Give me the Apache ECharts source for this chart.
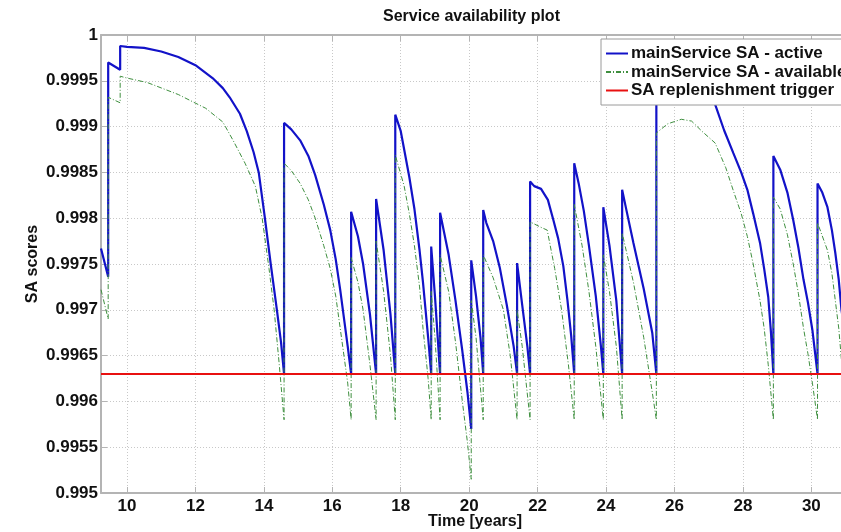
<!DOCTYPE html>
<html>
<head>
<meta charset="utf-8">
<script src="https://cdn.jsdelivr.net/npm/echarts@6/dist/echarts.min.js"></script>
<style>
    html, body { margin: 0; padding: 0; background: #fff; }
    #chart { width: 841px; height: 532px; }
</style>
</head>
<body>
<div id="chart"></div>
<script>
// time range shown on the x axis [years]
const timeRange = [9.24, 31.1];
const timeTicks = [10, 12, 14, 16, 18, 20, 22, 24, 26, 28, 30];
const triggerLevel = 0.9963;

// [time, SA]; repeated times are the replenishment jumps
const activeSA = [
    [9.24, 0.99767], [9.45, 0.99736], [9.45, 0.99970], [9.80, 0.99962], [9.80, 0.99988],
    [10.0, 0.99987], [10.5, 0.99986], [11.0, 0.99982], [11.5, 0.99976], [12.0, 0.99967],
    [12.5, 0.99953], [12.8, 0.99942], [13.0, 0.99932], [13.3, 0.99914], [13.5, 0.99895], [13.7, 0.99872],
    [13.85, 0.99850], [14.03, 0.99800], [14.2, 0.99750], [14.38, 0.99700], [14.5, 0.99665], [14.59, 0.99630],
    [14.59, 0.99904], [14.8, 0.99897], [15.06, 0.99885], [15.3, 0.99868], [15.5, 0.99847], [15.75, 0.99815],
    [15.94, 0.99787], [16.1, 0.99755], [16.23, 0.99722], [16.45, 0.99660], [16.55, 0.99630],
    [16.55, 0.99807], [16.75, 0.99780], [16.9, 0.99750], [17.1, 0.99695], [17.28, 0.99630],
    [17.28, 0.99821], [17.5, 0.99765], [17.7, 0.99695], [17.84, 0.99630],
    [17.84, 0.99913], [18.0, 0.99895], [18.1, 0.99875], [18.25, 0.99845], [18.4, 0.99810], [18.55, 0.99765],
    [18.65, 0.99730], [18.8, 0.99670], [18.89, 0.99630],
    [18.89, 0.99769], [19.0, 0.99715], [19.15, 0.99630],
    [19.15, 0.99806], [19.4, 0.99760], [19.6, 0.99710], [19.8, 0.99655], [19.95, 0.99610], [20.06, 0.99570],
    [20.06, 0.99754], [20.2, 0.99715], [20.33, 0.99670], [20.41, 0.99630],
    [20.41, 0.99809], [20.5, 0.99795], [20.7, 0.99775], [20.9, 0.99745], [21.1, 0.99705], [21.3, 0.99660], [21.4, 0.99630],
    [21.4, 0.99751], [21.55, 0.99705], [21.7, 0.99660], [21.78, 0.99630],
    [21.78, 0.99840], [21.9, 0.99835], [22.1, 0.99832], [22.3, 0.99820], [22.46, 0.99798], [22.6, 0.99778],
    [22.75, 0.99748], [22.87, 0.99711], [22.98, 0.99672], [23.07, 0.99630],
    [23.07, 0.99860], [23.2, 0.99838], [23.35, 0.99808], [23.5, 0.99770], [23.7, 0.99715], [23.85, 0.99660], [23.92, 0.99630],
    [23.92, 0.99812], [24.1, 0.99770], [24.3, 0.99710], [24.47, 0.99630],
    [24.47, 0.99831], [24.6, 0.99808], [24.8, 0.99773], [25.1, 0.99723], [25.35, 0.99675], [25.47, 0.99630],
    [25.47, 0.99935], [25.9, 0.99950], [26.4, 0.99955], [26.8, 0.99950], [27.0, 0.99940], [27.19, 0.99924],
    [27.45, 0.99896], [27.72, 0.99871], [27.95, 0.99850], [28.13, 0.99831], [28.3, 0.99805], [28.5, 0.99773],
    [28.62, 0.99745], [28.74, 0.99714], [28.82, 0.99675], [28.89, 0.99630],
    [28.89, 0.99868], [29.09, 0.99853], [29.3, 0.99828], [29.47, 0.99798], [29.62, 0.99768], [29.77, 0.99733],
    [29.9, 0.99708], [30.03, 0.99678], [30.18, 0.99630],
    [30.18, 0.99838], [30.32, 0.99828], [30.47, 0.99812], [30.6, 0.99787], [30.7, 0.99762], [30.8, 0.99733],
    [30.88, 0.99700], [31.0, 0.99670]
];

const availableSA = [
    [9.24, 0.99722], [9.45, 0.99690], [9.45, 0.99932], [9.80, 0.99926], [9.80, 0.99955],
    [10.0, 0.99953], [10.6, 0.99948], [11.5, 0.99935], [12.3, 0.99920], [12.8, 0.99905],
    [13.1, 0.99885], [13.45, 0.99860], [13.75, 0.99835], [13.95, 0.99800], [14.15, 0.99745],
    [14.3, 0.99700], [14.45, 0.99640], [14.59, 0.99580],
    [14.59, 0.99860], [14.8, 0.99852], [15.06, 0.99838], [15.3, 0.99820], [15.5, 0.99800], [15.75, 0.99770],
    [15.94, 0.99745], [16.1, 0.99715], [16.23, 0.99680], [16.45, 0.99620], [16.55, 0.99580],
    [16.55, 0.99757], [16.75, 0.99730], [16.9, 0.99700], [17.1, 0.99640], [17.28, 0.99580],
    [17.28, 0.99775], [17.5, 0.99720], [17.7, 0.99650], [17.84, 0.99580],
    [17.84, 0.99869], [18.1, 0.99835], [18.25, 0.99805], [18.4, 0.99770], [18.55, 0.99725], [18.65, 0.99680],
    [18.8, 0.99625], [18.89, 0.99580],
    [18.89, 0.99720], [19.0, 0.99670], [19.15, 0.99580],
    [19.15, 0.99760], [19.4, 0.99720], [19.6, 0.99665], [19.8, 0.99600], [19.95, 0.99555], [20.06, 0.99515],
    [20.06, 0.99710], [20.2, 0.99670], [20.41, 0.99580],
    [20.41, 0.99760], [20.7, 0.99735], [21.0, 0.99700], [21.2, 0.99650], [21.4, 0.99580],
    [21.4, 0.99700], [21.55, 0.99660], [21.78, 0.99580],
    [21.78, 0.99796], [22.1, 0.99790], [22.28, 0.99787], [22.5, 0.99745], [22.7, 0.99700], [22.9, 0.99640], [23.07, 0.99580],
    [23.07, 0.99815], [23.3, 0.99770], [23.5, 0.99720], [23.7, 0.99660], [23.92, 0.99580],
    [23.92, 0.99760], [24.1, 0.99720], [24.3, 0.99660], [24.47, 0.99580],
    [24.47, 0.99784], [24.8, 0.99730], [25.1, 0.99670], [25.35, 0.99610], [25.47, 0.99580],
    [25.47, 0.99893], [25.8, 0.99903], [26.2, 0.99908], [26.5, 0.99906], [26.8, 0.99895], [27.19, 0.99882],
    [27.5, 0.99855], [27.72, 0.99830], [27.95, 0.99805], [28.13, 0.99780], [28.3, 0.99750], [28.5, 0.99710],
    [28.62, 0.99680], [28.74, 0.99640], [28.89, 0.99580],
    [28.89, 0.99823], [29.09, 0.99810], [29.3, 0.99782], [29.47, 0.99750], [29.62, 0.99718], [29.77, 0.99680],
    [29.9, 0.99652], [30.03, 0.99620], [30.18, 0.99580],
    [30.18, 0.99795], [30.47, 0.99765], [30.6, 0.99740], [30.7, 0.99710], [30.8, 0.99680], [30.88, 0.99645], [31.0, 0.99615]
];

const seriesNames = ['mainService SA - active', 'mainService SA - available', 'SA replenishment trigger'];

const font = 'Liberation Sans, Arial, sans-serif';
const axisGray = '#b4b4b4';

let chart = echarts.init(document.getElementById('chart'));
chart.setOption({
    animation: false,
    title: {
        text: 'Service availability plot',
        left: 383,
        top: 9,
        padding: 0,
        textStyle: {fontFamily: font, fontSize: 16, fontWeight: 'bold', color: '#111'}
    },
    legend: {
        orient: 'vertical',
        left: 601,
        top: 39,
        padding: [6, 6, 6, 4],
        itemGap: 1.5,
        itemWidth: 22,
        itemHeight: 17,
        backgroundColor: '#fff',
        borderColor: '#9a9a9a',
        borderWidth: 1,
        data: seriesNames,
        itemStyle: {opacity: 0},
        textStyle: {fontFamily: font, fontSize: 17, fontWeight: 'bold', color: '#111', padding: [0, 0, 0, -2]}
    },
    grid: {left: 101, top: 35, width: 748, height: 458, containLabel: false, outerBoundsMode: 'none'},
    xAxis: [
        {
            type: 'value',
            min: timeRange[0],
            max: timeRange[1],
            name: 'Time [years]',
            nameLocation: 'middle',
            nameGap: 21,
            nameMoveOverlap: false,
            nameTextStyle: {fontFamily: font, fontSize: 16, fontWeight: 'bold', color: '#111'},
            axisLine: {onZero: false, lineStyle: {color: axisGray, width: 2}},
            axisTick: {inside: true, length: 6, customValues: timeTicks, lineStyle: {color: axisGray}},
            axisLabel: {customValues: timeTicks, margin: 5, fontFamily: font, fontSize: 17, fontWeight: 'bold', color: '#111'},
            splitLine: {show: true, lineStyle: {color: '#c8c8c8', type: [1, 2], width: 1}}
        },
        {
            type: 'value',
            position: 'top',
            min: timeRange[0],
            max: timeRange[1],
            axisLine: {onZero: false, lineStyle: {color: axisGray, width: 2}},
            axisTick: {inside: true, length: 6, customValues: timeTicks, lineStyle: {color: axisGray}},
            axisLabel: {show: false},
            splitLine: {show: false}
        }
    ],
    yAxis: {
        type: 'value',
        min: 0.995,
        max: 1,
        interval: 0.0005,
        name: 'SA scores',
        nameLocation: 'middle',
        nameGap: 60,
        nameMoveOverlap: false,
        nameTextStyle: {fontFamily: font, fontSize: 16, fontWeight: 'bold', color: '#111'},
        axisLine: {show: true, onZero: false, lineStyle: {color: axisGray, width: 2}},
        axisTick: {show: true, inside: true, length: 6, lineStyle: {color: axisGray}},
        axisLabel: {
            margin: 3,
            fontFamily: font, fontSize: 17, fontWeight: 'bold', color: '#111',
            formatter: v => String(Number(v.toFixed(4)))
        },
        splitLine: {show: true, lineStyle: {color: '#c8c8c8', type: [1, 2], width: 1}}
    },
    series: [
        {
            name: seriesNames[0],
            type: 'line',
            data: activeSA,
            symbol: 'none',
            lineStyle: {color: '#1212c8', width: 2.2},
            itemStyle: {color: '#1212c8'}
        },
        {
            name: seriesNames[1],
            type: 'line',
            data: availableSA,
            symbol: 'none',
            lineStyle: {color: '#3f8f3f', width: 1, type: [5, 2, 1, 2]},
            itemStyle: {color: '#3f8f3f'}
        },
        {
            name: seriesNames[2],
            type: 'line',
            data: [[timeRange[0], triggerLevel], [timeRange[1], triggerLevel]],
            symbol: 'none',
            lineStyle: {color: '#e81010', width: 2},
            itemStyle: {color: '#e81010'}
        }
    ]
});
</script>
</body>
</html>
